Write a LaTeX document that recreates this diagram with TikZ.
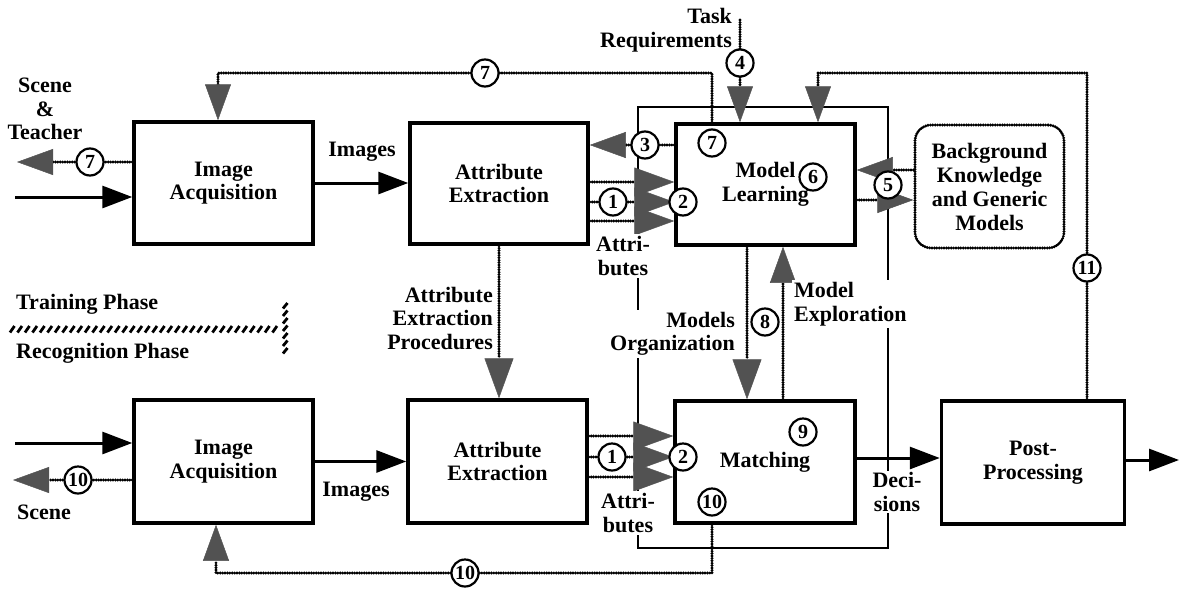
\documentclass[tikz,border=0pt]{standalone}
\usepackage{fontspec}
\setmainfont{Liberation Serif}
\usetikzlibrary{arrows.meta}
\pgfdeclarelayer{thin}\pgfdeclarelayer{conn}
\pgfsetlayers{thin,conn,main}
\begin{document}
\begin{tikzpicture}[x=1pt,y=-1pt,
  txt/.style={font=\bfseries\fontsize{22}{23.5}\selectfont, align=center, inner sep=2pt},
  wtxt/.style={txt, fill=white},
  blk/.style={draw, line width=3.5pt, inner sep=0pt, txt},
  num/.style={circle, draw, line width=2.2pt, fill=white, minimum size=27pt, inner sep=0pt, font=\bfseries\fontsize{20}{20}\selectfont},
  bead/.style={line width=3.2pt, dash pattern=on 0pt off 2.4pt, line cap=round, draw=black},
  garrow/.style={bead, -{Triangle[length=36pt,width=26pt,color=black!68,line width=0.5pt]}},
  gbig/.style={bead, -{Triangle[length=40pt,width=29pt,color=black!68,line width=0.5pt]}},
  sarrow/.style={line width=3pt, -{Triangle[length=30pt,width=22pt]}},
  thinline/.style={line width=1.6pt},
  hatch/.style={line width=2.8pt},
]
\useasboundingbox (0,0) rectangle (1180,589);

% boxes
\node[blk, minimum width=179pt, minimum height=122pt] (ia1) at (223.5,183) {Image\\Acquisition};
\node[blk, minimum width=178pt, minimum height=121pt] (ae1) at (499,183.5) {Attribute\\Extraction};
\node[blk, minimum width=179pt, minimum height=121pt] (ml) at (765.5,184.5) {Model\\Learning};
\node[txt, draw=black, line width=3.2pt, dash pattern=on 0pt off 2.4pt, line cap=round, rounded corners=16pt, minimum width=149pt, minimum height=123pt, font=\bfseries\fontsize{22}{24}\selectfont] (bk) at (989.5,186.5) {Background\\Knowledge\\and Generic\\Models};
\node[blk, minimum width=179pt, minimum height=123pt] (ia2) at (223.5,461.5) {Image\\Acquisition};
\node[blk, minimum width=179pt, minimum height=123pt] (ae2) at (497.5,461.5) {Attribute\\Extraction};
\node[blk, minimum width=180pt, minimum height=122pt] (mt) at (765,462) {Matching};
\node[blk, minimum width=183pt, minimum height=123pt] (pp) at (1033,462.5) {Post-\\Processing};

% labels
\node[txt] (scn1) at (45,109) {Scene\\\&\\Teacher};
\node[txt] (img1) at (362,152) {Images};
\node[txt, anchor=east, align=right] (task) at (734,30) {Task\\Requirements};
\node[wtxt] (attr1) at (623,256) {Attri-\\butes};
\node[txt, anchor=east, align=right] (aep) at (495,318) {Attribute\\Extraction\\Procedures};
\node[wtxt, anchor=east, align=right] (morg) at (737,334) {Models\\Organization};
\node[wtxt, anchor=west, align=left] (mexp) at (792,304) {Model\\Exploration};
\node[wtxt] (dec) at (897,492) {Deci-\\sions};
\node[txt] (img2) at (356,492) {Images};
\node[txt] (scn2) at (44,512) {Scene};
\node[wtxt] (attr2) at (628,513) {Attri-\\butes};
\node[txt, anchor=west] (trn) at (14,304) {Training Phase};
\node[txt, anchor=west] (rec) at (14,353) {Recognition Phase};

% numbered circles
\node[num] (c7a) at (90,162) {7};
\node[num] (c7b) at (485,73) {7};
\node[num] (c7c) at (712,143) {7};
\node[num] (c4) at (740,63) {4};
\node[num] (c3) at (645,145) {3};
\node[num] (c1a) at (613,202) {1};
\node[num] (c2a) at (683,202) {2};
\node[num] (c6) at (813,177) {6};
\node[num] (c5) at (888,185) {5};
\node[num] (c11) at (1087,268) {11};
\node[num] (c8) at (765,322) {8};
\node[num] (c9) at (803,432) {9};
\node[num] (c1b) at (612,457) {1};
\node[num] (c2b) at (683,457) {2};
\node[num] (c10a) at (78,480) {10};
\node[num] (c10b) at (712,502) {10};
\node[num] (c10c) at (465,573) {10};

% coordinates
\coordinate (in1) at (15,197);
\coordinate (out1) at (17,162);
\coordinate (t7) at (712,73);
\coordinate (a7) at (218,73);
\coordinate (tk) at (740,20);
\coordinate (e11) at (1087,73);
\coordinate (a11) at (818,73);
\coordinate (y3) at (0,145);
\coordinate (ya1) at (0,182);
\coordinate (ya2) at (0,202);
\coordinate (ya3) at (0,221);
\coordinate (y5a) at (0,170);
\coordinate (y5b) at (0,200);
\coordinate (x8) at (747,0);
\coordinate (x9) at (783,0);
\coordinate (yb1) at (0,436);
\coordinate (yb2) at (0,457);
\coordinate (yb3) at (0,477);
\coordinate (in2) at (15,443);
\coordinate (out2) at (13,480);
\coordinate (yd) at (0,458);
\coordinate (outp) at (1179,460);
\coordinate (b10) at (712,573);
\coordinate (c10l) at (216,573);
\coordinate (f1) at (638,107);
\coordinate (f2) at (888,548);

\begin{pgfonlayer}{thin}
\draw[thinline] (f1) rectangle (f2);
\end{pgfonlayer}

\begin{pgfonlayer}{conn}
% solid arrows
\draw[sarrow] (in1) -- (in1 -| ia1.west);
\draw[sarrow] (ia1.east) -- (ia1.east -| ae1.west);
\draw[sarrow] (in2) -- (in2 -| ia2.west);
\draw[sarrow] (ia2.east) -- (ia2.east -| ae2.west);
\draw[sarrow] (mt.east |- yd) -- (pp.west |- yd);
\draw[sarrow] (pp.east |- outp) -- (outp);
% gray arrows
\draw[garrow] (ia1.west |- out1) -- (out1);
\draw[garrow] (t7 |- ml.north) -- (t7) -- (a7) -- (a7 |- ia1.north);
\draw[garrow] (tk) -- (tk |- ml.north);
\draw[garrow] (e11 |- pp.north) -- (e11) -- (a11) -- (a11 |- ml.north);
\draw[garrow] (ml.west |- y3) -- (ae1.east |- y3);
\draw[gbig] (ae1.east |- ya1) -- (ml.west |- ya1);
\draw[gbig] (ae1.east |- ya2) -- (ml.west |- ya2);
\draw[gbig] (ae1.east |- ya3) -- (ml.west |- ya3);
\draw[garrow] (bk.west |- y5a) -- (ml.east |- y5a);
\draw[garrow] (ml.east |- y5b) -- (bk.west |- y5b);
\draw[gbig] (ae1.south) -- (ae1.south |- ae2.north);
\draw[gbig] (ml.south -| x8) -- (mt.north -| x8);
\draw[garrow] (mt.north -| x9) -- (ml.south -| x9);
\draw[gbig] (ae2.east |- yb1) -- (mt.west |- yb1);
\draw[gbig] (ae2.east |- yb2) -- (mt.west |- yb2);
\draw[gbig] (ae2.east |- yb3) -- (mt.west |- yb3);
\draw[garrow] (ia2.west |- out2) -- (out2);
\draw[garrow] (b10 |- mt.south) -- (b10) -- (c10l) -- (c10l |- ia2.south);
% phase separator
\foreach \x in {10,17.5,...,278} \draw[hatch] (\x,332.5) -- (\x+4.5,326);
\foreach \y in {303,310.5,...,350} \draw[hatch] (283,\y+5.5) -- (287.5,\y);
\end{pgfonlayer}
\end{tikzpicture}
\end{document}
